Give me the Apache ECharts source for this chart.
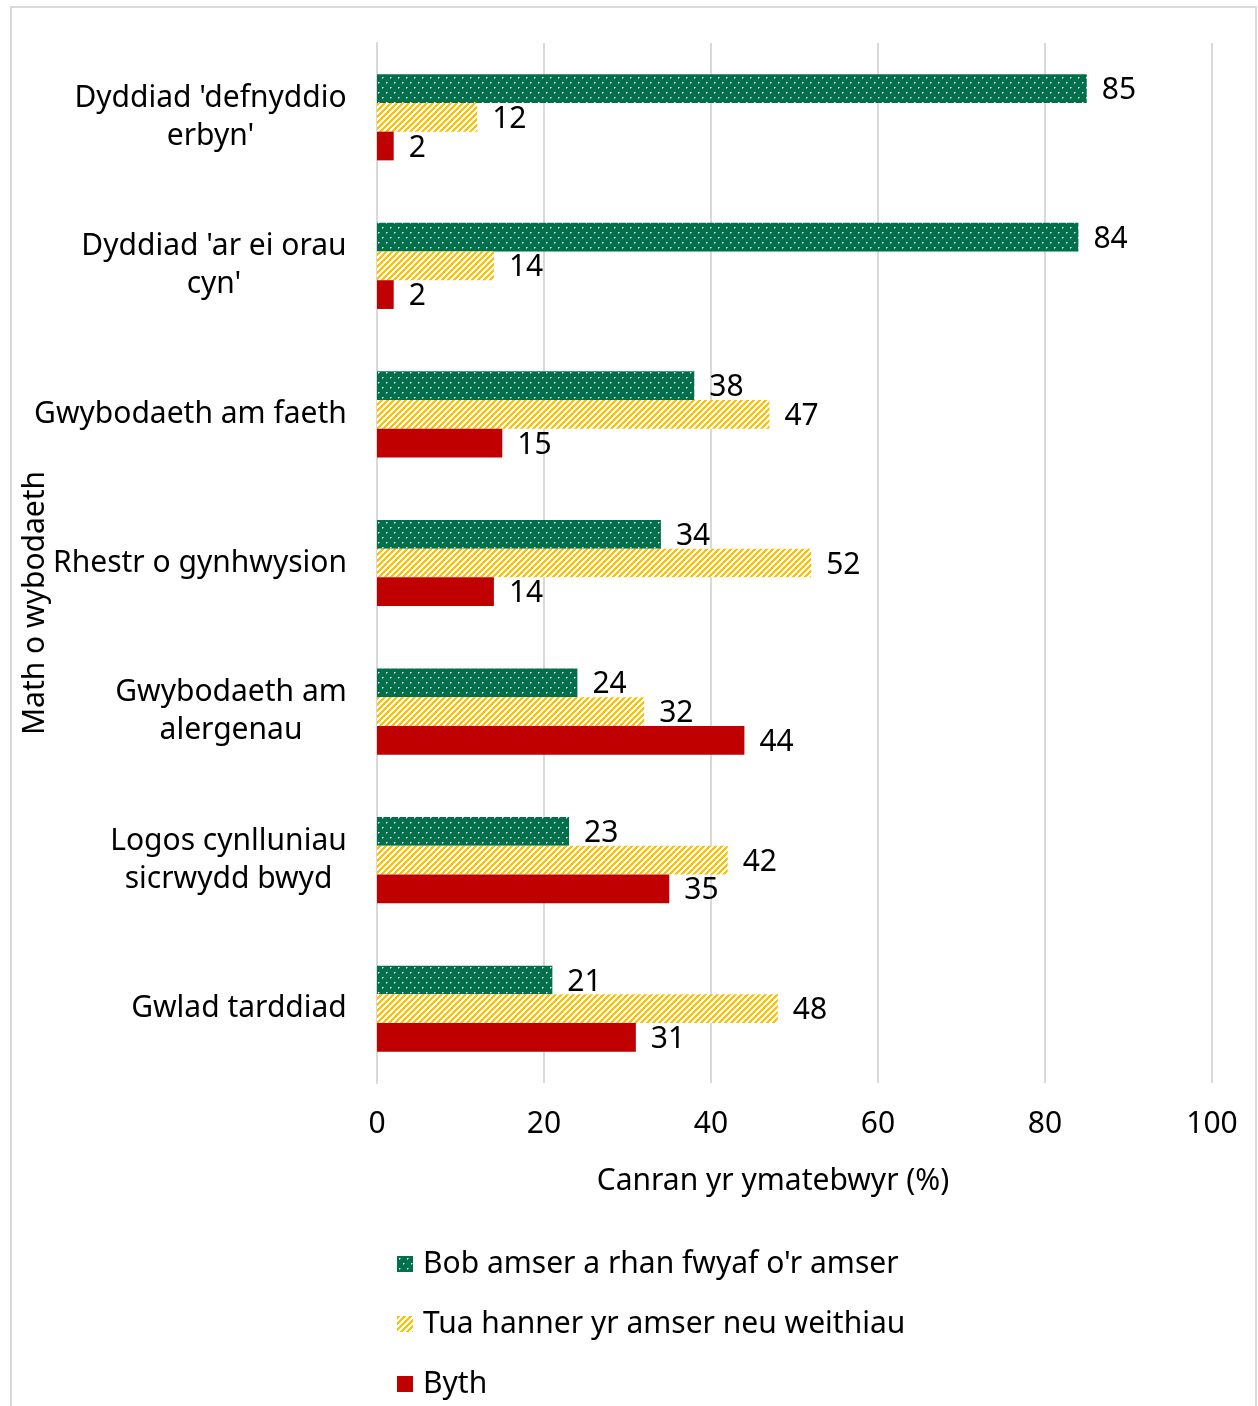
<!DOCTYPE html>
<html><head><meta charset="utf-8">
<script src="https://cdn.jsdelivr.net/npm/echarts@6/dist/echarts.min.js"></script>
<style>html,body{margin:0;padding:0;background:#fff}#c{width:1258px;height:1406px}</style>
</head><body><div id="c"></div>
<script>
const categories = ["Dyddiad 'defnyddio\nerbyn'", "Dyddiad 'ar ei orau\ncyn'", "Gwybodaeth am faeth", "Rhestr o gynhwysion", "Gwybodaeth am\nalergenau", "Logos cynlluniau\nsicrwydd bwyd", "Gwlad tarddiad"];
const seriesNames = ["Bob amser a rhan fwyaf o'r amser", "Tua hanner yr amser neu weithiau", "Byth"];
const alwaysVals = [85, 84, 38, 34, 24, 23, 21];
const halfVals = [12, 14, 47, 52, 32, 42, 48];
const neverVals = [2, 2, 15, 14, 44, 35, 31];
const xTicks = [0, 20, 40, 60, 80, 100];
const yAxisTitle = "Math o wybodaeth";
const xAxisTitle = "Canran yr ymatebwyr (%)";

const FONT = '"Noto Sans", "Fira Sans", sans-serif';
const FS = 30;

function dotPattern() {
  const c = document.createElement('canvas'); c.width = 8; c.height = 10;
  const g = c.getContext('2d');
  g.fillStyle = '#00704A'; g.fillRect(0, 0, 8, 10);
  g.fillStyle = '#ffffff';
  g.fillRect(2, 2, 1, 1); g.fillRect(6, 7, 1, 1);
  g.fillStyle = 'rgba(255,255,255,0.5)';
  g.fillRect(3, 2, 1, 1); g.fillRect(7, 7, 1, 1);
  g.fillRect(2, 3, 1, 1); g.fillRect(6, 8, 1, 1);
  return c;
}
function stripePattern() {
  const c = document.createElement('canvas'); c.width = 6; c.height = 6;
  const g = c.getContext('2d');
  const img = g.createImageData(6, 6);
  for (let y = 0; y < 6; y++) for (let x = 0; x < 6; x++) {
    const i = (y * 6 + x) * 4;
    const yel = ((x + y) % 6) < 3;
    img.data[i] = 255; img.data[i+1] = yel ? 192 : 255; img.data[i+2] = yel ? 0 : 255; img.data[i+3] = 255;
  }
  g.putImageData(img, 0, 0);
  return c;
}
const greenFill = { image: dotPattern(), repeat: 'repeat' };
const yellowFill = { image: stripePattern(), repeat: 'repeat' };
const redFill = '#C00000';

const mctx = document.createElement('canvas').getContext('2d');
mctx.font = FS + 'px ' + FONT;
const rich = {};
categories.forEach((cat, i) => {
  const w = Math.max(...cat.split('\n').map(l => mctx.measureText(l).width));
  rich['c' + i] = { width: Math.ceil(w), align: 'center', fontSize: FS, fontFamily: FONT, color: '#000', lineHeight: 38 };
});

const chart = echarts.init(document.getElementById('c'), null, { renderer: 'canvas' });
const labelCfg = { show: true, position: 'right', distance: 15, fontSize: FS, fontFamily: FONT, color: '#000', offset: [0, 2] };
const mk = (name, data, fill) => ({
  name, type: 'bar', data, barGap: '0%', barCategoryGap: '42%',
  itemStyle: { color: fill }, label: labelCfg, emphasis: { disabled: true }
});

chart.setOption({
  animation: false,
  backgroundColor: '#fff',
  textStyle: { fontFamily: FONT },
  grid: { left: 377, right: 46, top: 43, bottom: 323, containLabel: false },
  xAxis: {
    type: 'value', min: 0, max: 100, interval: 20,
    axisLine: { show: false }, axisTick: { show: false },
    splitLine: { show: true, lineStyle: { color: '#d9d9d9', width: 2 } },
    axisLabel: { fontSize: FS, fontFamily: FONT, color: '#000', margin: 26,
      formatter: v => xTicks.includes(v) ? String(v) : '' }
  },
  yAxis: {
    type: 'category', data: categories, inverse: true,
    axisLine: { show: true, lineStyle: { color: '#d9d9d9', width: 2 } },
    axisTick: { show: false },
    axisLabel: { margin: 30, fontSize: FS, fontFamily: FONT, color: '#000',
      formatter: (v, i) => v.split('\n').map(l => '{c' + i + '|' + l + '}').join('\n'),
      rich }
  },
  legend: {
    orient: 'vertical', left: 397, top: 1249, padding: 0, itemWidth: 16, itemHeight: 16, itemGap: 30,
    icon: 'rect', data: seriesNames, selectedMode: false,
    textStyle: { fontSize: FS, fontFamily: FONT, color: '#000', padding: [0, 0, 0, 5] }
  },
  series: [mk(seriesNames[0], alwaysVals, greenFill), mk(seriesNames[1], halfVals, yellowFill), mk(seriesNames[2], neverVals, redFill)],
  graphic: [
    { type: 'rect', shape: { x: 11, y: 7, width: 1245, height: 1420 }, style: { fill: 'none', stroke: '#d9d9d9', lineWidth: 2 }, silent: true, z: -1 },
    { type: 'text', x: 35, y: 603, rotation: Math.PI / 2, style: { text: yAxisTitle, fontSize: FS, fontFamily: FONT, fill: '#000', align: 'center', verticalAlign: 'middle' } },
    { type: 'text', x: 773, y: 1181, style: { text: xAxisTitle, fontSize: FS, fontFamily: FONT, fill: '#000', align: 'center', verticalAlign: 'middle' } }
  ]
});
</script></body></html>
